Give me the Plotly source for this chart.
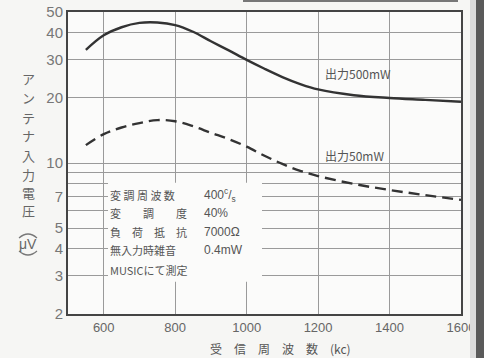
import math
import plotly.graph_objects as go

freq = [550, 600, 650, 700, 750, 800, 850, 900, 950, 1000, 1050, 1100, 1150, 1200, 1300, 1400, 1500, 1600]
v_500mw = [33.4, 39.0, 42.5, 44.5, 44.7, 43.5, 40.5, 36.6, 33.2, 30.0, 27.3, 25.0, 23.2, 21.9, 20.6, 20.0, 19.6, 19.2]
v_50mw = [12.1, 13.6, 14.6, 15.3, 15.8, 15.6, 14.8, 13.8, 12.9, 11.9, 10.8, 9.9, 9.2, 8.7, 8.0, 7.5, 7.1, 6.75]

x_ticks = [600, 800, 1000, 1200, 1400, 1600]
x_ticktext = ["600", "800", "1000", "1200", "1400", "1600"]
y_ticks = [2, 3, 4, 5, 6, 7, 8, 9, 10, 20, 30, 40, 50]
y_ticktext = ["2", "3", "4", "5", " ", "7", " ", " ", "10", "20", "30", "40", "50"]

cond_labels = ["変 調 周 波 数", "変　　調　　度", "負　荷　抵　抗", "無入力時雑音"]
cond_values = ["400<sup>c</sup>/<sub>s</sub>", "40%", "7000Ω", "0.4mW"]
cond_note = "MUSICにて測定"
y_title = "アンテナ入力電圧"
y_unit = "μV"
x_title = "受　信　周　波　数　(kc)"

FONT = "Noto Sans CJK JP"
NUM = "Liberation Sans Narrow, Liberation Sans, sans-serif"
INK = "#333333"
GRID = "#9a9a9a"

W, H = 484, 358
L, R, T, B = 68, 23, 12, 44
pw, ph = W - L - R, H - T - B


def px2paper(px, py):
    return (px - L) / pw, 1 - (py - T) / ph


def py2logy(py):
    # pixel row -> log10 value on the y axis (range log10(2)..log10(50))
    return math.log10(2) + (1 - (py - T) / ph) * (math.log10(50) - math.log10(2))


fig = go.Figure()
fig.add_trace(go.Scatter(x=freq, y=v_500mw, mode="lines",
                         line=dict(color=INK, width=2.4, shape="spline"), showlegend=False))
fig.add_trace(go.Scatter(x=freq, y=v_50mw, mode="lines",
                         line=dict(color=INK, width=2.4, shape="spline", dash="11px,6px"), showlegend=False))

# white box behind the condition text
fig.add_shape(type="rect", xref="x", yref="y", x0=612, x1=1043, y0=2.82, y1=8.1,
              fillcolor="#fbfbfa", line=dict(width=0), layer="above")

annots = []
row_y = [195, 213, 232, 250]
for lab, val, py in zip(cond_labels, cond_values, row_y):
    annots.append(dict(x=612, y=py2logy(py), xref="x", yref="y", text=lab, showarrow=False, xanchor="left",
                       yanchor="middle", font=dict(family=FONT, size=11, color="#555")))
    annots.append(dict(x=875, y=py2logy(py), xref="x", yref="y", text=val, showarrow=False, xanchor="left",
                       yanchor="middle", font=dict(family=NUM, size=12, color="#555")))
annots.append(dict(x=612, y=py2logy(270), xref="x", yref="y", text=cond_note, showarrow=False,
                   xanchor="left", yanchor="middle", font=dict(family=FONT, size=11, color="#555")))

annots.append(dict(x=1215, y=py2logy(73), xref="x", yref="y", text="出力500mW", showarrow=False,
                   xanchor="left", yanchor="middle", font=dict(family=FONT, size=12, color="#555")))
annots.append(dict(x=1215, y=py2logy(155), xref="x", yref="y", text="出力50mW", showarrow=False,
                   xanchor="left", yanchor="middle", font=dict(family=FONT, size=12, color="#555")))

# vertical y-axis title, one character per row
char_y = [78, 97, 117, 135, 155, 174, 192, 210]
for ch, py in zip(y_title, char_y):
    xp, yp = px2paper(28, py)
    annots.append(dict(x=xp, y=yp, xref="paper", yref="paper", text=ch, showarrow=False,
                       xanchor="center", yanchor="middle", font=dict(family=FONT, size=13, color="#666")))
xp, yp = px2paper(28, 244)
annots.append(dict(x=xp, y=yp, xref="paper", yref="paper", text=y_unit, showarrow=False,
                   xanchor="center", yanchor="middle", font=dict(family=NUM, size=14, color="#666")))

xp, yp = px2paper(280, 348)
annots.append(dict(x=xp, y=yp, xref="paper", yref="paper", text=x_title, showarrow=False,
                   xanchor="center", yanchor="middle", font=dict(family=FONT, size=12, color="#555")))

# vertical-style parentheses around μV (arcs above and below)
ax0, ay0 = px2paper(19, 238)
ax1, ay1 = px2paper(37, 238)
amx, amy = px2paper(28, 230)
fig.add_shape(type="path", xref="paper", yref="paper",
              path=f"M {ax0},{ay0} Q {amx},{amy} {ax1},{ay1}", line=dict(color="#777", width=1.2))
bx0, by0 = px2paper(19, 251)
bx1, by1 = px2paper(37, 251)
bmx, bmy = px2paper(28, 259)
fig.add_shape(type="path", xref="paper", yref="paper",
              path=f"M {bx0},{by0} Q {bmx},{bmy} {bx1},{by1}", line=dict(color="#777", width=1.2))

fig.update_layout(
    width=W, height=H,
    margin=dict(l=L, r=R, t=T, b=B, autoexpand=False),
    paper_bgcolor="#f6f6f4", plot_bgcolor="#fbfbfa",
    annotations=annots,
    xaxis=dict(range=[500, 1600], tickvals=x_ticks, ticktext=x_ticktext, showgrid=True, gridcolor=GRID, gridwidth=1,
               showline=True, linecolor="#444", linewidth=2, mirror=True, ticks="", zeroline=False,
               automargin=False, tickfont=dict(family=NUM, size=13, color="#666")),
    yaxis=dict(type="log", range=[math.log10(2), math.log10(50)], tickvals=y_ticks, ticktext=y_ticktext,
               showgrid=True, gridcolor=GRID, gridwidth=1, showline=True, linecolor="#444", linewidth=2,
               mirror=True, ticks="", automargin=False, tickfont=dict(family=NUM, size=15, color="#777")),
)

# scan edges (page edge on the right, book edge on top)
xa, _ = px2paper(470, 0)
xb, _ = px2paper(476, 0)
xc, _ = px2paper(485, 0)
fig.add_shape(type="rect", xref="paper", yref="paper", x0=xa, x1=xb, y0=-0.2, y1=1.1,
              fillcolor="#dcdcdc", line=dict(width=0), layer="above")
fig.add_shape(type="rect", xref="paper", yref="paper", x0=xb, x1=xc, y0=-0.2, y1=1.1,
              fillcolor="#5a5a5a", line=dict(width=0), layer="above")
tx0, ty = px2paper(243, 1)
tx1, _ = px2paper(458, 1)
fig.add_shape(type="line", xref="paper", yref="paper", x0=tx0, x1=tx1, y0=ty, y1=ty,
              line=dict(color="#777777", width=2), layer="above")

fig.write_html("out.html", config={"displayModeBar": False},
               post_script="document.body.style.margin='0';document.body.style.padding='0';"
                           "document.documentElement.style.margin='0';")
